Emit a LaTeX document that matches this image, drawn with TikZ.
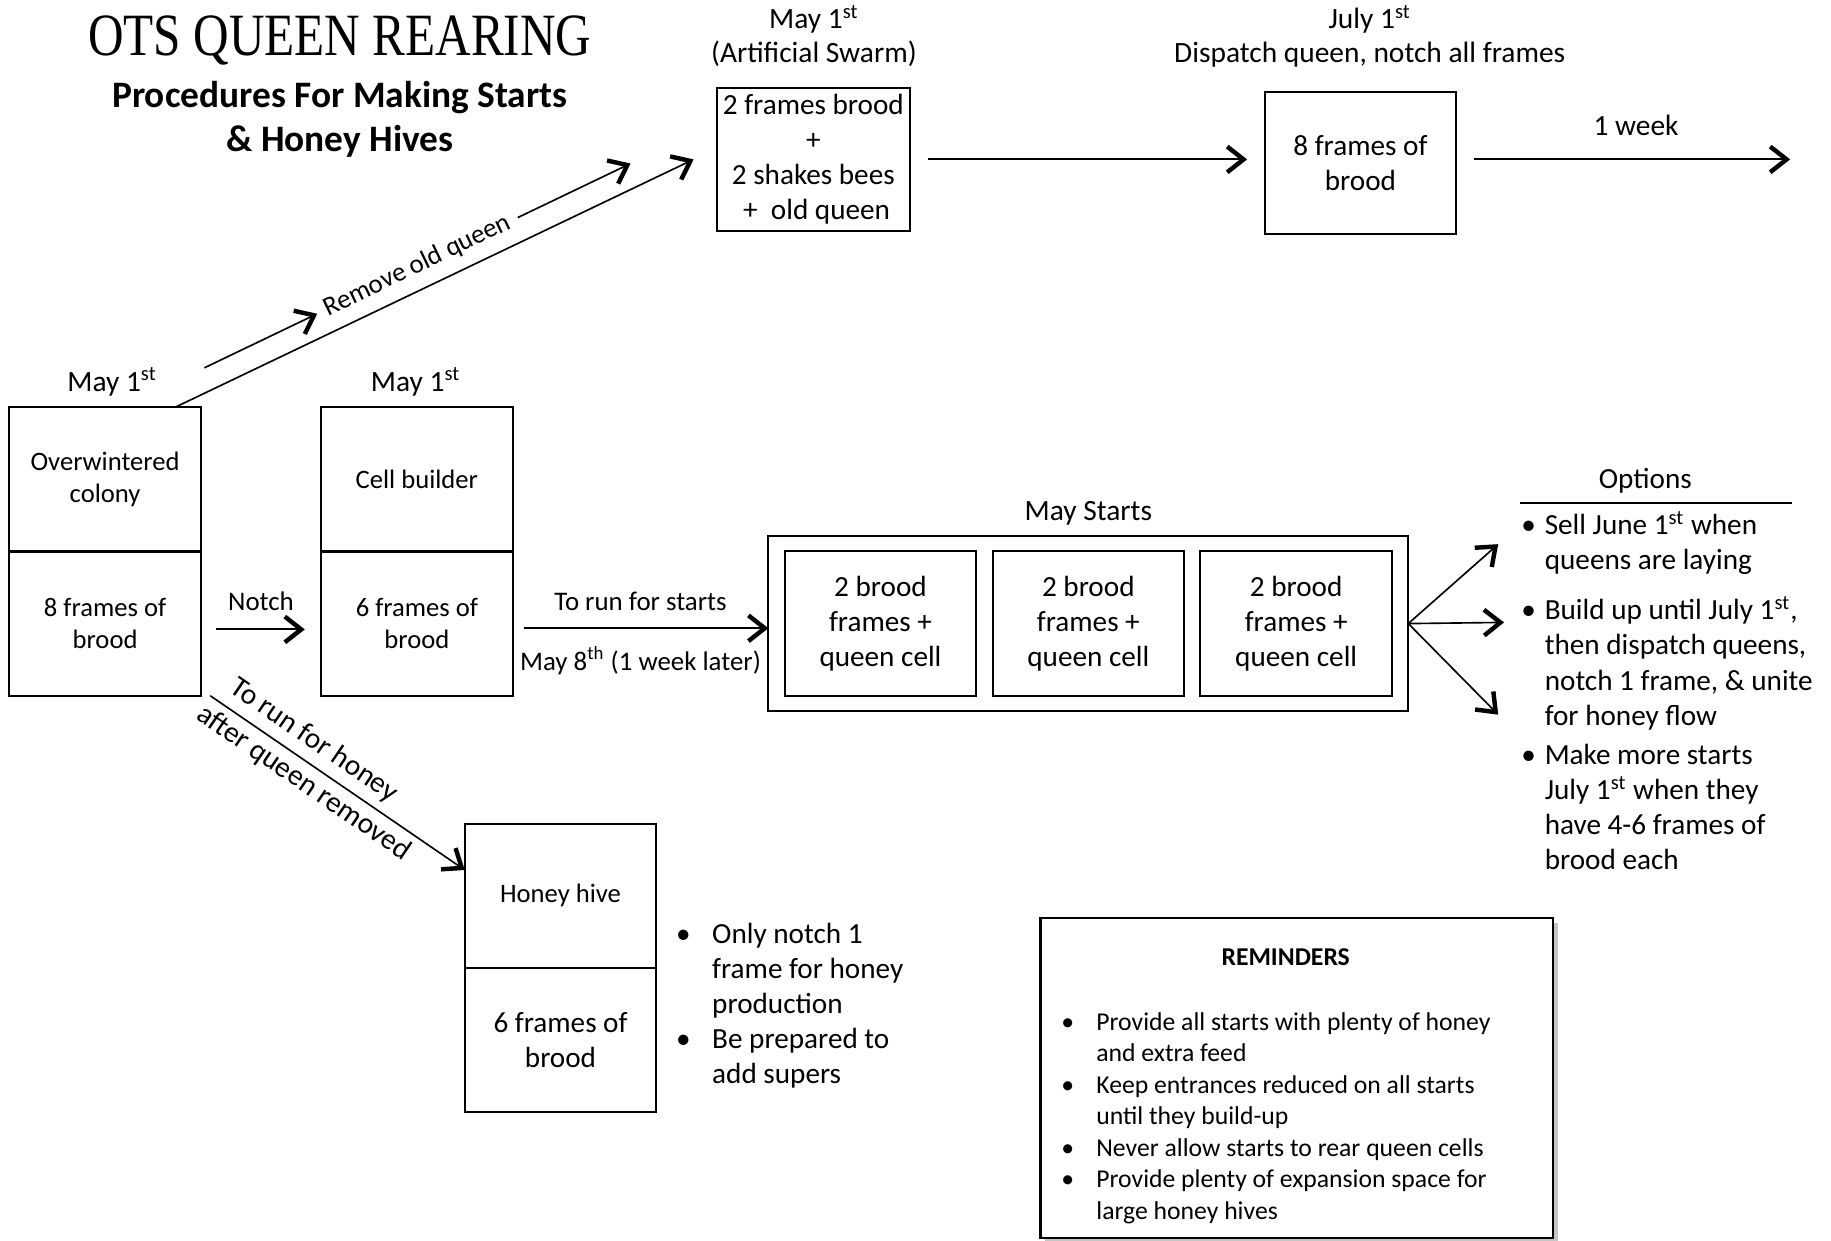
\documentclass[tikz,border=0pt]{standalone}
\usepackage{fontspec}
\setsansfont{Carlito}
\setmainfont{Liberation Serif}
\renewcommand{\familydefault}{\sfdefault}
\usepackage{tikz}
\usetikzlibrary{arrows.meta, positioning, shadows}

\newcommand{\bigtxt}{\fontsize{12.5}{15}\selectfont}
\newcommand{\datetxt}{\fontsize{12.6}{14.5}\selectfont}
\newcommand{\midtxt}{\fontsize{11.5}{14.5}\selectfont}
\newcommand{\smalltxt}{\fontsize{11.4}{14}\selectfont}
\newcommand{\remtxt}{\fontsize{11}{13.5}\selectfont}

\begin{document}
\begin{tikzpicture}[x=0.5pt, y=-0.5pt, line width=0.9pt,
  >={Straight Barb[length=7pt, width=11pt, line width=1.9pt]},
  box/.style={draw, line width=0.9pt, align=center, inner sep=0pt, outer sep=0pt},
  half/.style={box, minimum width=82pt, minimum height=61.75pt, font=\smalltxt},
  lbl/.style={font=\midtxt, inner sep=0pt, align=center},
  lst/.style={align=left, anchor=north west, inner sep=0pt}]
\useasboundingbox (0,0) rectangle (1568,1062);

\node[font=\rmfamily\fontsize{25.7}{30}\selectfont] (title) at (291,35) {\scalebox{0.82}[1]{OTS QUEEN REARING}};
\node[font=\bfseries\fontsize{16}{19}\selectfont, align=center] (subtitle) at (291,102) {Procedures For Making Starts\\\& Honey Hives};

\node[half] (colonytop) at (90,410.5) {Overwintered\\colony};
\node[half, below=0pt of colonytop] (colonybot) {8 frames of\\brood};
\node[half] (buildertop) at (357,410.5) {Cell builder};
\node[half, below=0pt of buildertop] (builderbot) {6 frames of\\brood};
\node[half] (honeytop) at (480,767) {Honey hive};
\node[half, below=0pt of honeytop, font=\bigtxt] (honeybot) {6 frames of\\brood};
\node[lbl, font=\datetxt] (colonydate) at (96,327) {May 1\textsuperscript{st}};
\node[lbl, font=\datetxt] (builderdate) at (356,327) {May 1\textsuperscript{st}};

\node[box, minimum width=82.5pt, minimum height=61.5pt, font=\bigtxt] (swarm) at (696.5,136.5) {2 frames brood\\+\\2 shakes bees\\\ +\ \ old queen};
\node[lbl, font=\datetxt] (swarmdate) at (697,31) {May 1\textsuperscript{st}\\(Artificial Swarm)};
\node[box, minimum width=82pt, minimum height=60.5pt, font=\bigtxt] (brood) at (1165,139.5) {8 frames of\\brood};
\node[lbl, font=\datetxt] (brooddate) at (1173,31) {July 1\textsuperscript{st}\\Dispatch queen, notch all frames};
\coordinate (weekend) at (1533,137);

\node[box, minimum width=274pt, minimum height=75pt] (starts) at (932,534) {};
\foreach \i/\x in {1/754, 2/932, 3/1110}
  \node[box, minimum width=82pt, minimum height=62pt, font=\bigtxt] (start\i) at (\x,534) {2 brood\\frames +\\queen cell};
\node[lbl, font=\datetxt] (startslabel) at (932,440) {May Starts};

\draw[->, shorten <=6.5pt, shorten >=7pt] ([yshift=-2.5pt]colonybot.east) -- node[lbl, above=7.5pt] {Notch} ([yshift=-2.5pt]builderbot.west);
\draw[->, shorten <=5pt] ([yshift=-2pt]builderbot.east) -- node[lbl, above=7pt] {To run for starts} node[lbl, below=7.5pt] {May 8\textsuperscript{th} (1 week later)} ([yshift=-2pt]builderbot.east -| starts.west);
\draw[->, shorten <=8pt, shorten >=7.5pt] (swarm.east) -- (swarm.east -| brood.west);
\draw[->, shorten <=7.5pt] (swarm.east -| brood.east) -- node[lbl, font=\datetxt, above=9.5pt, xshift=5.5pt] {1 week} (swarm.east -| weekend);

\coordinate (rq1) at (175,315);
\coordinate (rq4) at (540,140);
\path (rq1) -- node[lbl, sloped, inner sep=3.5pt] (rqlabel) {Remove old queen} (rq4);
\draw[->, line width=0.7pt] (rq1) -- (rqlabel.west);
\draw[->, line width=0.7pt] (rqlabel.east) -- (rq4);
\draw[->, line width=0.7pt] ([xshift=-11pt]colonytop.north east) -- ([xshift=-10pt]swarm.west);
\draw[->, line width=0.7pt] ([xshift=4pt]colonybot.south east) -- node[lbl, font=\datetxt, sloped, above=3.5pt, pos=0.36] {To run for honey} node[lbl, font=\datetxt, sloped, below=2.5pt, pos=0.41] {after queen removed} ([yshift=11pt]honeytop.west);

\coordinate (opt1) at (1283,466);
\coordinate (opt2) at (1288,533);
\coordinate (opt3) at (1283,612);
\foreach \o in {opt1, opt2, opt3}
  \draw[->, line width=0.7pt] (starts.east) -- (\o);
\node[lbl, font=\bigtxt] (optlabel) at (1409,412) {Options};
\draw (1302,431) -- (1535,431);
\node[lst, font=\bigtxt] (optlist) at (1302,436) {%
\begin{tabular}{@{}p{10pt}@{}l@{}}
\textbullet & Sell June 1\textsuperscript{st} when\\
 & queens are laying\\[6.5pt]
\textbullet & Build up until July 1\textsuperscript{st},\\
 & then dispatch queens,\\
 & notch 1 frame, \& unite\\
 & for honey flow\\[2pt]
\textbullet & Make more starts\\
 & July 1\textsuperscript{st} when they\\
 & have 4-6 frames of\\
 & brood each
\end{tabular}};

\node[lst, font=\bigtxt] (honeylist) at (578,786) {%
\begin{tabular}{@{}p{15.5pt}@{}l@{}}
\textbullet & Only notch 1\\
 & frame for honey\\
 & production\\
\textbullet & Be prepared to\\
 & add supers
\end{tabular}};

\node[box, fill=white, minimum width=219.5pt, minimum height=137pt,
  drop shadow={shadow xshift=2pt, shadow yshift=-2pt, fill=black!45}] (remind) at (1110.5,923.5) {};
\node[lbl, font=\remtxt\bfseries] (remtitle) at (1101,820) {REMINDERS};
\node[lst, font=\remtxt] (remlist) at (908,862.5) {%
\begin{tabular}{@{}p{15pt}@{}l@{}}
\textbullet & Provide all starts with plenty of honey\\
 & and extra feed\\
\textbullet & Keep entrances reduced on all starts\\
 & until they build-up\\
\textbullet & Never allow starts to rear queen cells\\
\textbullet & Provide plenty of expansion space for\\
 & large honey hives
\end{tabular}};
\end{tikzpicture}
\end{document}
